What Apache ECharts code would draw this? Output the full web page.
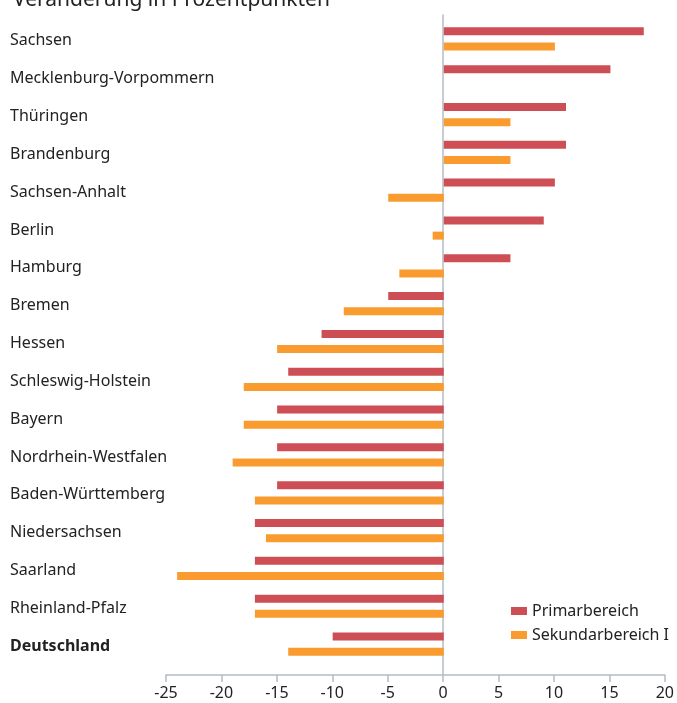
<!DOCTYPE html>
<html>
<head>
<meta charset="UTF-8">
<title>Veränderung in Prozentpunkten</title>
<script src="https://cdn.jsdelivr.net/npm/echarts@6/dist/echarts.min.js"></script>
<style>
	html, body { margin: 0; padding: 0; background: #fff; }
	#chart { width: 677px; height: 703px; }
</style>
</head>
<body>
	<div id="chart"></div>
	<script type="text/javascript">
		// data, top to bottom as in the picture
		var laender = [ 'Sachsen', 'Mecklenburg-Vorpommern', 'Thüringen', 'Brandenburg',
				'Sachsen-Anhalt', 'Berlin', 'Hamburg', 'Bremen', 'Hessen',
				'Schleswig-Holstein', 'Bayern', 'Nordrhein-Westfalen',
				'Baden-Württemberg', 'Niedersachsen', 'Saarland', 'Rheinland-Pfalz',
				'Deutschland' ];
		var primar = [ 18, 15, 11, 11, 10, 9, 6, -5, -11, -14, -15, -15, -15, -17, -17, -17, -10 ];
		var sekundar = [ 10, null, 6, 6, -5, -1, -4, -9, -15, -18, -18, -19, -17, -16, -24, -17, -14 ];
		var xTicks = [ -25, -20, -15, -10, -5, 0, 5, 10, 15, 20 ];

		var fontName = 'Noto Sans';
		var lineColor = '#b4bcc4';
		var chart = echarts.init(document.getElementById('chart'));
		chart.setOption({
			animation : false,
			title : {
				text : 'Veränderung in Prozentpunkten',
				left : 8,
				top : -15,
				textStyle : {
					fontFamily : fontName,
					fontWeight : 'normal',
					fontSize : 21,
					color : '#222'
				}
			},
			legend : {
				orient : 'vertical',
				right : 3,
				top : 598,
				itemWidth : 16,
				itemHeight : 8,
				itemGap : 8,
				icon : 'rect',
				textStyle : {
					fontFamily : fontName,
					fontSize : 16,
					color : '#222'
				},
				data : [ 'Primarbereich', 'Sekundarbereich I' ]
			},
			// grid 0: bars, grid 1: full-height frame for the x axis and zero line
			grid : [ {
				left : 166,
				right : 11,
				top : 20,
				bottom : 40
			}, {
				left : 166,
				right : 11,
				top : 15,
				bottom : 28
			} ],
			xAxis : [ {
				gridIndex : 0,
				type : 'value',
				min : xTicks[0],
				max : xTicks[xTicks.length - 1],
				interval : 5,
				show : false
			}, {
				gridIndex : 1,
				type : 'value',
				min : xTicks[0],
				max : xTicks[xTicks.length - 1],
				interval : 5,
				axisLine : {
					show : true,
					onZero : false,
					lineStyle : { color : lineColor, width : 1.5 }
				},
				axisTick : {
					show : true,
					length : 7,
					lineStyle : { color : lineColor, width : 1.5 }
				},
				splitLine : { show : false },
				axisLabel : {
					fontFamily : fontName,
					fontSize : 16,
					color : '#222',
					margin : 10
				}
			} ],
			yAxis : [ {
				gridIndex : 0,
				type : 'category',
				inverse : true,
				data : laender,
				axisLine : { show : false, onZero : false },
				axisTick : { show : false },
				axisLabel : {
					align : 'left',
					margin : 156,
					padding : [ 4, 0, 0, 0 ],
					fontFamily : fontName,
					fontSize : 16,
					color : '#222',
					formatter : function(v) {
						return v === 'Deutschland' ? '{b|' + v + '}' : v;
					},
					rich : {
						b : {
							fontFamily : fontName,
							fontSize : 16,
							fontWeight : 'bold',
							color : '#222'
						}
					}
				}
			}, {
				gridIndex : 1,
				type : 'value',
				min : 0,
				max : 1,
				axisLine : {
					show : true,
					onZero : true,
					lineStyle : { color : lineColor, width : 1.5 }
				},
				axisTick : { show : false },
				axisLabel : { show : false },
				splitLine : { show : false }
			} ],
			series : [ {
				name : 'Primarbereich',
				type : 'bar',
				xAxisIndex : 0,
				yAxisIndex : 0,
				barWidth : 8,
				barGap : '90%',
				itemStyle : { color : '#cd4f55' },
				data : primar
			}, {
				name : 'Sekundarbereich I',
				type : 'bar',
				xAxisIndex : 0,
				yAxisIndex : 0,
				barWidth : 8,
				barGap : '90%',
				itemStyle : { color : '#f99b2e' },
				data : sekundar
			} ]
		});
	</script>
</body>
</html>
